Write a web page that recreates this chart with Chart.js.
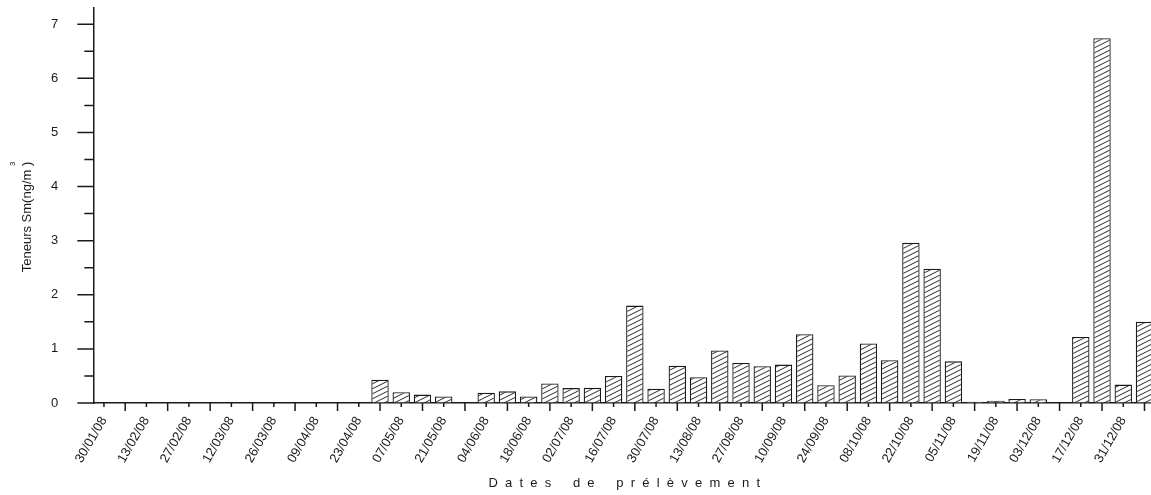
<!DOCTYPE html>
<html>
<head>
<meta charset="utf-8">
<script src="https://cdn.jsdelivr.net/npm/chart.js@4.4.1/dist/chart.umd.min.js"></script>
<style>
  html, body { margin: 0; padding: 0; overflow: hidden; background: #fff; }
  canvas { display: block; }
</style>
</head>
<body>
<canvas id="chart" width="1160" height="495"></canvas>
<script>
// Weekly sampling dates (every other one is labelled on the axis)
const dates = [
  '30/01/08', '06/02/08', '13/02/08', '20/02/08', '27/02/08', '05/03/08', '12/03/08', '19/03/08',
  '26/03/08', '02/04/08', '09/04/08', '16/04/08', '23/04/08', '30/04/08', '07/05/08', '14/05/08',
  '21/05/08', '28/05/08', '04/06/08', '11/06/08', '18/06/08', '25/06/08', '02/07/08', '09/07/08',
  '16/07/08', '23/07/08', '30/07/08', '06/08/08', '13/08/08', '20/08/08', '27/08/08', '03/09/08',
  '10/09/08', '17/09/08', '24/09/08', '01/10/08', '08/10/08', '15/10/08', '22/10/08', '29/10/08',
  '05/11/08', '12/11/08', '19/11/08', '26/11/08', '03/12/08', '10/12/08', '17/12/08', '24/12/08',
  '31/12/08', '07/01/09'
];

// Samarium content, ng/m3
const samarium = [
  0, 0, 0, 0, 0, 0, 0, 0,
  0, 0, 0, 0, 0, 0.43, 0.20, 0.155,
  0.12, 0, 0.19, 0.215, 0.12, 0.36, 0.275, 0.28,
  0.50, 1.80, 0.265, 0.69, 0.475, 0.97, 0.74, 0.68,
  0.71, 1.27, 0.33, 0.51, 1.10, 0.79, 2.96, 2.48,
  0.77, 0.025, 0.04, 0.075, 0.07, 0, 1.22, 6.74,
  0.34, 1.50
];

const yMin = 0;
const yMax = 7.3;
const yStep = 0.5;

const FONT = '"Liberation Sans", Arial, Helvetica, sans-serif';
const INK = '#1a1a1a';

// Diagonal "/" hatch fill for the bars
function makeHatch() {
  const w = 10, h = 5;
  const c = document.createElement('canvas');
  c.width = w; c.height = h;
  const g = c.getContext('2d');
  g.fillStyle = '#ffffff';
  g.fillRect(0, 0, w, h);
  g.strokeStyle = '#2a2a2a';
  g.lineWidth = 1;
  g.beginPath();
  for (let n = -1; n <= 1; n++) {
    g.moveTo(-w, 2 * h + n * h);
    g.lineTo(2 * w, -h + n * h);
  }
  g.stroke();
  return g.createPattern(c, 'repeat');
}

// Tick marks of two lengths and the rotated y-axis title with its superscript
const axisDecor = {
  id: 'axisDecor',
  afterDraw(chart) {
    const { ctx, scales: { x, y } } = chart;
    ctx.save();
    ctx.strokeStyle = INK;
    ctx.lineWidth = 1.5;
    ctx.beginPath();
    const base = x.top;
    x.ticks.forEach((t, i) => {
      const px = x.getPixelForTick(i);
      const len = i % 2 ? 8 : 4;
      ctx.moveTo(px, base);
      ctx.lineTo(px, base + len);
    });
    const ax = y.right;
    y.ticks.forEach(t => {
      const py = y.getPixelForValue(t.value);
      const len = Number.isInteger(t.value) ? 16 : 9;
      ctx.moveTo(ax, py);
      ctx.lineTo(ax - len, py);
    });
    ctx.stroke();

    ctx.fillStyle = INK;
    ctx.font = '13px ' + FONT;
    ctx.translate(27, 217);
    ctx.rotate(-Math.PI / 2);
    ctx.textAlign = 'center';
    ctx.textBaseline = 'middle';
    const title = 'Teneurs Sm(ng/m )';
    ctx.fillText(title, 0, 0);
    const w = ctx.measureText(title).width;
    const pre = ctx.measureText('Teneurs Sm(ng/m').width;
    ctx.font = '8px ' + FONT;
    ctx.fillText('3', -w / 2 + pre + 6, -14);
    ctx.restore();
  }
};

new Chart(document.getElementById('chart'), {
  type: 'bar',
  data: {
    labels: dates,
    datasets: [{
      data: samarium,
      backgroundColor: makeHatch(),
      borderColor: INK,
      borderWidth: 1.3,
      categoryPercentage: 1,
      barPercentage: 0.82
    }]
  },
  options: {
    responsive: false,
    animation: false,
    layout: { padding: { left: 50, top: 8, right: 0, bottom: 0 } },
    plugins: {
      legend: { display: false },
      tooltip: { enabled: false }
    },
    scales: {
      x: {
        offset: true,
        grid: { drawOnChartArea: false, tickLength: 9, tickColor: 'rgba(0,0,0,0)' },
        border: { color: INK, width: 1.5 },
        ticks: {
          autoSkip: false,
          minRotation: 60,
          maxRotation: 60,
          padding: 2,
          color: INK,
          font: { family: FONT, size: 13 },
          callback: (v, i) => (i % 2 === 0 ? dates[i] : '')
        },
        title: {
          display: true,
          text: 'D  a  t  e  s      d  e      p  r  é  l  è  v  e  m  e  n  t',
          color: INK,
          font: { family: FONT, size: 13 },
          padding: { top: 0, bottom: 4 }
        },
        afterFit: s => { s.height = 92; }
      },
      y: {
        min: yMin,
        max: yMax,
        grid: { drawOnChartArea: false, tickLength: 35, tickColor: 'rgba(0,0,0,0)' },
        border: { color: INK, width: 1.5 },
        ticks: {
          stepSize: yStep,
          padding: 0,
          color: INK,
          font: { family: FONT, size: 13 },
          callback: v => (Number.isInteger(v) ? v : '')
        },
        afterBuildTicks: s => { s.ticks = s.ticks.filter(t => Number.isInteger(t.value * 2)); },
        afterFit: s => { s.width = 43.33; }
      }
    }
  },
  plugins: [axisDecor]
});
</script>
</body>
</html>
